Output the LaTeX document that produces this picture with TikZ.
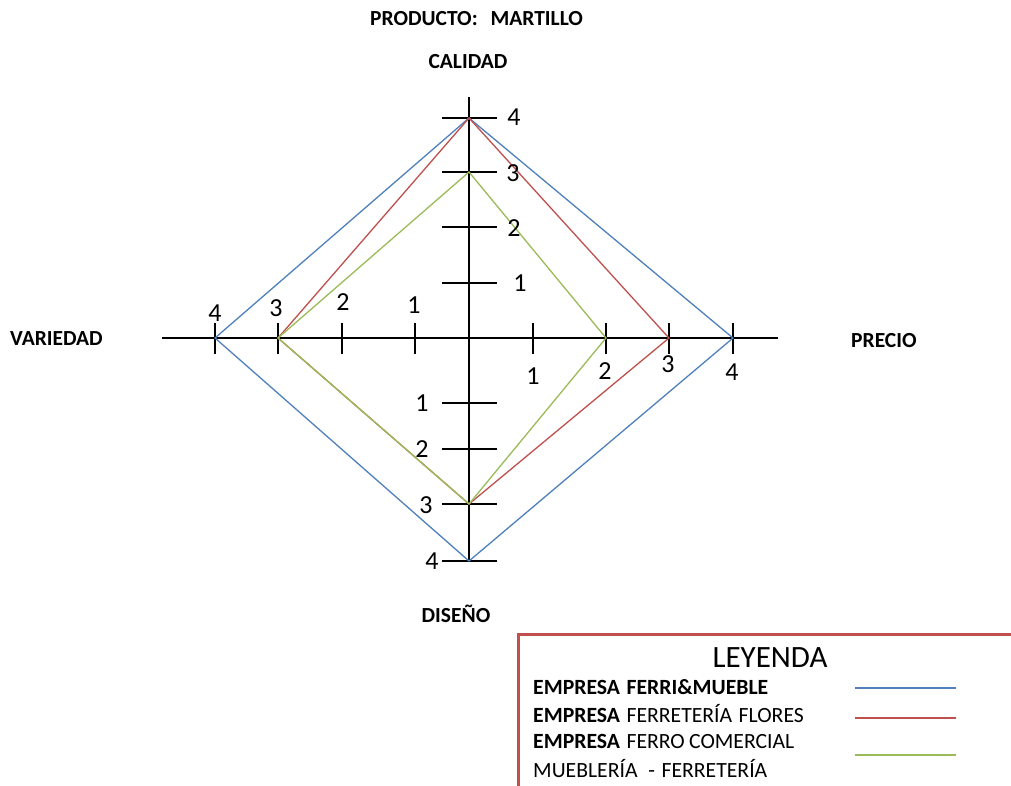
\documentclass[tikz,border=0pt]{standalone}
\usepackage{fontspec}
\setmainfont{Carlito}
\definecolor{serieA}{HTML}{4F81BD}
\definecolor{serieB}{HTML}{C0504D}
\definecolor{serieC}{HTML}{9BBB59}
\definecolor{marco}{HTML}{C0504D}
\tikzset{
  axisline/.style={line width=2pt, black},
  tickline/.style={line width=2pt, black},
  seriesline/.style={line width=1.3pt, line join=miter},
  ticklabel/.style={inner sep=0pt, font=\fontsize{26}{30}\selectfont},
  axislabel/.style={inner sep=0pt, anchor=base, font=\fontsize{21.5}{25}\selectfont\bfseries},
  legtext/.style={inner sep=0pt, anchor=base west, font=\fontsize{21.7}{25}\selectfont},
}
\begin{document}
\begin{tikzpicture}[x=1pt, y=-1pt]
\useasboundingbox (0,0) rectangle (1011,785);
\clip (0,0) rectangle (1011,785);
\fill[white] (0,0) rectangle (1011,785);

% axis end points and origin
\coordinate (o) at (469,338);
\coordinate (top) at (469,97);
\coordinate (bot) at (469,562);
\coordinate (lft) at (162,338);
\coordinate (rgt) at (778,338);

% graduation points on each axis
\coordinate (c1) at (469,283);
\coordinate (c2) at (469,227);
\coordinate (c3) at (469,172);
\coordinate (c4) at (469,118);
\coordinate (d1) at (469,403);
\coordinate (d2) at (469,449);
\coordinate (d3) at (469,504);
\coordinate (d4) at (469,561);
\coordinate (v1) at (415,338);
\coordinate (v2) at (342,338);
\coordinate (v3) at (278,338);
\coordinate (v4) at (215,338);
\coordinate (p1) at (533,338);
\coordinate (p2) at (606,338);
\coordinate (p3) at (669,338);
\coordinate (p4) at (733,338);

% axes
\draw[axisline] (top) -- (bot);
\draw[axisline] (lft) -- (rgt);

% tick marks
\foreach \t in {c1,c2,c3,c4,d1,d2,d3,d4}
  \draw[tickline] ([xshift=-27pt]\t) -- ([xshift=28pt]\t);
\foreach \t in {v1,v2,v3,v4,p1,p2,p3,p4}
  \draw[tickline] ([yshift=-16pt]\t) -- ([yshift=15pt]\t);

% series polygons
\draw[seriesline, serieA] (c4) -- (p4) -- (d4) -- (v4) -- cycle;
\draw[seriesline, serieB] (c4) -- (p3) -- (d3) -- (v3) -- cycle;
\draw[seriesline, serieC] (c3) -- (p2) -- (d3) -- (v3) -- cycle;

% tick labels
\node[ticklabel] (lc4) at (514,117) {4};
\node[ticklabel] (lc3) at (513,173) {3};
\node[ticklabel] (lc2) at (514,228) {2};
\node[ticklabel] (lc1) at (520,283) {1};
\node[ticklabel] (ld1) at (422,403) {1};
\node[ticklabel] (ld2) at (422,449) {2};
\node[ticklabel] (ld3) at (426,505) {3};
\node[ticklabel] (ld4) at (432,561) {4};
\node[ticklabel] (lv4) at (215,313) {4};
\node[ticklabel] (lv3) at (276,308) {3};
\node[ticklabel] (lv2) at (343,302) {2};
\node[ticklabel] (lv1) at (414,305) {1};
\node[ticklabel] (lp1) at (533,376) {1};
\node[ticklabel] (lp2) at (605,371) {2};
\node[ticklabel] (lp3) at (668,364) {3};
\node[ticklabel] (lp4) at (732,372) {4};

% titles and axis names
\node[axislabel, anchor=base west] (titulo) at (370,25) {PRODUCTO:\hspace{0.6em}MARTILLO};
\node[axislabel] (calidad) at (468,68) {CALIDAD};
\node[axislabel, anchor=base west] (variedad) at (10,345) {VARIEDAD};
\node[axislabel, anchor=base west] (precio) at (851,347) {PRECIO};
\node[axislabel] (diseno) at (456,622) {DISEÑO};

% legend
\draw[marco, line width=3pt] (518,634) rectangle (1030,800);
\node[inner sep=0pt, anchor=base, font=\fontsize{31}{35}\selectfont] (leyenda) at (770,667) {LEYENDA};
\node[legtext] (e1) at (533,694) {\textbf{EMPRESA\hspace{0.3em}FERRI\&MUEBLE}};
\node[legtext] (e2) at (533,722) {\textbf{EMPRESA}\hspace{0.3em}FERRETERÍA\hspace{0.3em}FLORES};
\node[legtext] (e3) at (533,748) {\textbf{EMPRESA}\hspace{0.3em}FERRO\hspace{0.2em}COMERCIAL};
\node[legtext] (e4) at (533,777) {MUEBLERÍA\hspace{0.5em}-\hspace{0.3em}FERRETERÍA};
\coordinate (ka1) at (855,688);
\coordinate (kb1) at (956,688);
\coordinate (ka2) at (855,718);
\coordinate (kb2) at (956,718);
\coordinate (ka3) at (855,755);
\coordinate (kb3) at (956,755);
\draw[seriesline, serieA] (ka1) -- (kb1);
\draw[seriesline, serieB] (ka2) -- (kb2);
\draw[seriesline, serieC] (ka3) -- (kb3);
\end{tikzpicture}
\end{document}
